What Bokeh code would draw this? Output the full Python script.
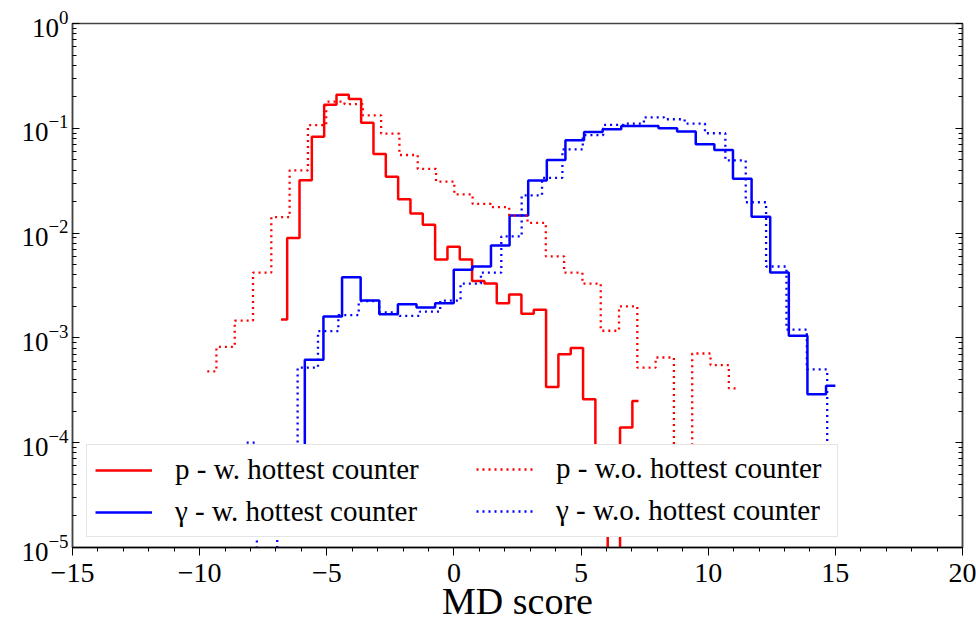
import numpy as np
from bokeh.plotting import figure
from bokeh.models import (Range1d, LogAxis, LogTicker, SingleIntervalTicker, Legend,
                          LegendItem, CustomJSTickFormatter)
from bokeh.embed import file_html
from bokeh.resources import INLINE

# ---- data: histogram bin centres (MD score) and normalised counts ----
N_BINS = 30
p_w_range = (-6.80, 7.26)      # first / last bin centre, p - w. hottest counter
p_wo_range = (-9.70, 11.17)    # p - w.o. hottest counter
g_w_range = (-6.23, 15.00)     # gamma - w. hottest counter
g_wo_range = (-8.15, 15.08)    # gamma - w.o. hottest counter

p_w = [1.5e-3, 9.0e-3, 0.032, 0.083, 0.168, 0.209, 0.19, 0.113, 0.057, 0.0344,
       0.021, 0.0154, 0.012, 0.0056, 0.0074, 0.0056, 0.0035, 0.0033, 0.00214, 0.0026,
       0.0017, 0.00186, 3.4e-4, 7.0e-4, 8.0e-4, 2.6e-4, 3e-5, 0.0, 1.4e-4, 2.5e-4]
p_wo = [4.8e-4, 8.2e-4, 1.46e-3, 4.2e-3, 0.0142, 0.0397, 0.107, 0.18, 0.17, 0.133,
        0.089, 0.0556, 0.041, 0.031, 0.0234, 0.019, 0.0177, 0.0147, 0.0125, 6.0e-3,
        4.2e-3, 3.3e-3, 1.17e-3, 2.0e-3, 5.2e-4, 6.5e-4, 3e-5, 7.1e-4, 5.5e-4, 3.3e-4]
g_w = [5e-5, 6.2e-4, 1.6e-3, 3.8e-3, 2.27e-3, 1.68e-3, 2.09e-3, 1.95e-3, 2.14e-3, 4.47e-3,
       4.8e-3, 7.6e-3, 0.0147, 0.0318, 0.0498, 0.0769, 0.0924, 0.098, 0.105, 0.105,
       0.1, 0.093, 0.0705, 0.062, 0.033, 0.0143, 4.2e-3, 1.05e-3, 2.9e-4, 3.5e-4]
g_wo = [1.0e-4, 0.0, 3e-5, 5.2e-4, 1.16e-3, 1.65e-3, 2.25e-3, 1.75e-3, 1.62e-3, 1.78e-3,
        2.27e-3, 3.3e-3, 4.2e-3, 9.3e-3, 0.0229, 0.0337, 0.063, 0.086, 0.108, 0.111,
        0.127, 0.122, 0.111, 0.0897, 0.0495, 0.0197, 4.8e-3, 1.2e-3, 5.0e-4, 3e-5]

labels = ["p - w. hottest counter", "γ - w. hottest counter",
          "p - w.o. hottest counter", "γ - w.o. hottest counter"]
x_ticks_interval = 5

FONT = "Liberation Serif"
RED = "#ff0000"
BLUE = "#0000ff"
TEXT = "black"


def centres(rng):
    return np.linspace(rng[0], rng[1], N_BINS)


def for_log(vals):
    # empty bins (0) fall far below the visible log range
    return [v if v > 0 else 1e-12 for v in vals]


p = figure(width=976, height=624, x_range=Range1d(-15, 20), y_range=Range1d(1e-5, 1),
           y_axis_type="log", output_backend="svg", toolbar_location=None,
           min_border_left=72, min_border_right=14, min_border_top=23, min_border_bottom=76)
p.xgrid.visible = False
p.ygrid.visible = False
p.outline_line_color = "#444444"
p.outline_line_width = 1.5
p.background_fill_color = "white"
p.border_fill_color = "white"

r_pw = p.step(centres(p_w_range), for_log(p_w), mode="center", line_color=RED, line_width=2.5)
r_gw = p.step(centres(g_w_range), for_log(g_w), mode="center", line_color=BLUE, line_width=2.5)
r_pwo = p.step(centres(p_wo_range), for_log(p_wo), mode="center", line_color=RED,
               line_width=2.3, line_dash="2 4")
r_gwo = p.step(centres(g_wo_range), for_log(g_wo), mode="center", line_color=BLUE,
               line_width=2.3, line_dash="2 4")

# x axis
xa = p.xaxis[0]
xa.ticker = SingleIntervalTicker(interval=x_ticks_interval, num_minor_ticks=5)
xa.formatter = CustomJSTickFormatter(code="return tick < 0 ? '\u2212' + (-tick) : '' + tick;")
xa.axis_label = "MD score"
xa.axis_label_text_font = FONT
xa.axis_label_text_font_size = "38px"
xa.axis_label_text_font_style = "normal"
xa.axis_label_text_color = TEXT
xa.axis_label_standoff = -5
xa.major_label_text_font = FONT
xa.major_label_text_font_size = "28px"
xa.major_label_text_color = TEXT
xa.major_label_standoff = 8
xa.major_tick_out = 8
xa.major_tick_in = 0
xa.minor_tick_out = 4
xa.minor_tick_in = 0
xa.axis_line_color = "black"
xa.axis_line_width = 1.5

# y axis (ticks inside)
ticker = LogTicker(mantissas=[1], desired_num_ticks=6, num_minor_ticks=10)
ya = p.yaxis[0]
ya.ticker = ticker
ya.major_label_text_font = FONT
ya.major_label_text_font_size = "27px"
ya.major_label_text_color = TEXT
ya.major_label_standoff = 4
ya.major_tick_in = 7
ya.major_tick_out = 0
ya.minor_tick_in = 4
ya.minor_tick_out = 0
ya.axis_line_color = "#444444"
ya.axis_line_width = 1.5

ry = LogAxis(ticker=ticker, formatter=CustomJSTickFormatter(code="return '';"),
             major_label_standoff=0,
             major_tick_in=7, major_tick_out=0, minor_tick_in=4, minor_tick_out=0,
             axis_line_color="#444444", axis_line_width=1.5)
p.add_layout(ry, "right")


def style_legend(lg):
    lg.label_text_font = FONT
    lg.label_text_font_size = "29px"
    lg.label_text_color = TEXT
    lg.label_height = 28
    lg.glyph_height = 28
    lg.glyph_width = 57
    lg.label_standoff = 23
    lg.spacing = 9
    lg.padding = 8
    lg.margin = 0


# first column carries the frame of the whole legend box
legend1 = Legend(items=[LegendItem(label=labels[0], renderers=[r_pw]),
                        LegendItem(label=labels[1], renderers=[r_gw])],
                 location=(14, 10), orientation="vertical")
style_legend(legend1)
legend1.label_width = 654
legend1.border_line_color = "#cccccc"
legend1.border_line_width = 1.2
legend1.background_fill_color = "white"
legend1.background_fill_alpha = 1.0
p.add_layout(legend1)

# second column drawn on top of the same box
legend2 = Legend(items=[LegendItem(label=labels[2], renderers=[r_pwo]),
                        LegendItem(label=labels[3], renderers=[r_gwo])],
                 location=(404, 20), orientation="vertical")
style_legend(legend2)
legend2.label_width = 200
legend2.border_line_color = None
legend2.background_fill_alpha = 0.0
p.add_layout(legend2)

with open("out.html", "w", encoding="utf-8") as f:
    f.write(file_html(p, INLINE))
